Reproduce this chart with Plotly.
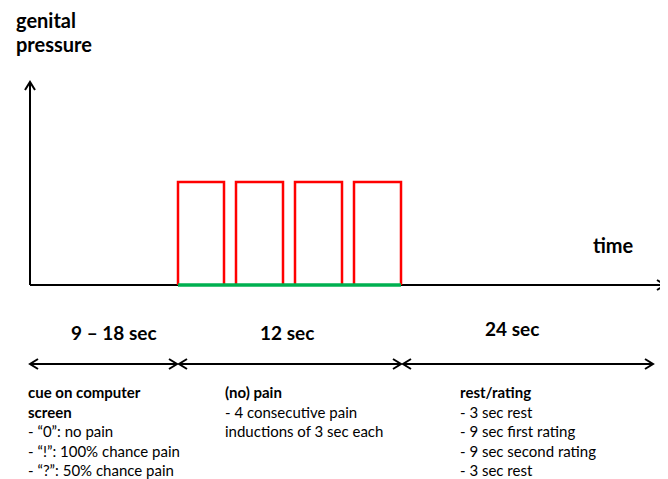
import plotly.graph_objects as go

W, H = 668, 479
PAGE_OFFSET = 8  # default body margin of the html page

# schematic layout values (diagram units = pixels of the schematic)
axis_origin = (30, 285)
x_axis_end = 665
y_axis_top = 82
pulse_starts = [178, 236, 295, 354]
pulse_ends = [224, 283, 342, 401]
pulse_top = 182
baseline = 285

phase_bounds = [29, 178, 402, 654]
phase_labels = ["9 – 18 sec", "12 sec", "24 sec"]
phase_label_x = [114, 287, 512]
phase_label_y = [332, 332, 328]
phase_arrow_y = 364

desc_x = [26, 223, 458]
desc_blocks = [
    ["cue on computer", "screen", "- “0”: no pain", "- “!”: 100% chance pain", "- “?”: 50% chance pain"],
    ["(no) pain", "- 4 consecutive pain", "inductions of 3 sec each"],
    ["rest/rating", "- 3 sec rest", "- 9 sec first rating", "- 9 sec second rating", "- 3 sec rest"],
]
desc_bold_lines = [2, 1, 1]
desc_y0 = 392
desc_step = 19.5

FONT = "Lato"
fig = go.Figure()

def line(xs, ys, color="black", width=2):
    fig.add_trace(go.Scatter(x=xs, y=ys, mode="lines", line=dict(color=color, width=width),
                             hoverinfo="skip", showlegend=False))

def chevron(tx, ty, direction, size=8, half=5, width=2):
    if direction == "r":
        xs, ys = [tx - size, tx, tx - size], [ty - half, ty, ty + half]
    elif direction == "l":
        xs, ys = [tx + size, tx, tx + size], [ty - half, ty, ty + half]
    else:
        xs, ys = [tx - half, tx, tx + half], [ty + size, ty, ty + size]
    line(xs, ys, width=width)

# axes
ox, oy = axis_origin
line([ox, x_axis_end], [oy, oy], width=2)
chevron(x_axis_end, oy, "r")
line([ox, ox], [oy, y_axis_top], width=2)
chevron(ox, y_axis_top, "u")

# pulses
px, py = [], []
for s, e in zip(pulse_starts, pulse_ends):
    px += [s, s, e, e, None]
    py += [baseline, pulse_top, pulse_top, baseline, None]
fig.add_trace(go.Scatter(x=px, y=py, mode="lines", line=dict(color="#FF0000", width=2.5),
                         hoverinfo="skip", showlegend=False))
line([pulse_starts[0], pulse_ends[-1]], [baseline, baseline], color="#00B050", width=3.5)

# phase arrows
for i in range(3):
    a, b = phase_bounds[i] + 1, phase_bounds[i + 1] - 1
    line([a, b], [phase_arrow_y, phase_arrow_y], width=2)
    chevron(a, phase_arrow_y, "l")
    chevron(b, phase_arrow_y, "r")
    fig.add_annotation(x=phase_label_x[i], y=phase_label_y[i],
                       text="<b>" + phase_labels[i] + "</b>", showarrow=False,
                       font=dict(family=FONT, size=19, color="black"), xanchor="center", yanchor="middle")

# descriptions
for bx, block, nb in zip(desc_x, desc_blocks, desc_bold_lines):
    for j, t in enumerate(block):
        txt = "<b>" + t + "</b>" if j < nb else t
        fig.add_annotation(x=bx, y=desc_y0 + j * desc_step, text=txt, showarrow=False,
                           font=dict(family=FONT, size=15, color="black"), xanchor="left", yanchor="middle")

# axis titles
fig.add_annotation(x=14, y=20, text="<b>genital</b>", showarrow=False,
                   font=dict(family=FONT, size=20, color="black"), xanchor="left", yanchor="middle")
fig.add_annotation(x=14, y=44, text="<b>pressure</b>", showarrow=False,
                   font=dict(family=FONT, size=20, color="black"), xanchor="left", yanchor="middle")
fig.add_annotation(x=613, y=245, text="<b>time</b>", showarrow=False,
                   font=dict(family=FONT, size=20, color="black"), xanchor="center", yanchor="middle")

fig.update_xaxes(range=[PAGE_OFFSET, W], visible=False, fixedrange=True)
fig.update_yaxes(range=[H, PAGE_OFFSET], visible=False, fixedrange=True)
fig.update_layout(width=W - PAGE_OFFSET, height=H - PAGE_OFFSET, margin=dict(l=0, r=0, t=0, b=0),
                  plot_bgcolor="white", paper_bgcolor="white", showlegend=False)
fig.write_html("out.html", config={"displayModeBar": False})
